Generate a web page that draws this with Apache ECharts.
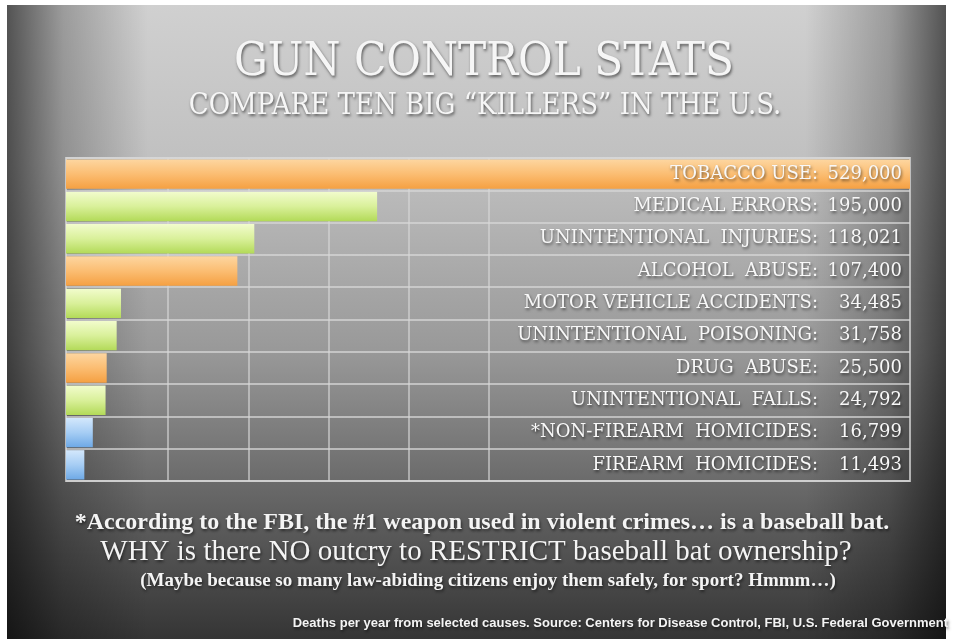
<!DOCTYPE html>
<html>
<head>
<meta charset="utf-8">
<script src="https://cdn.jsdelivr.net/npm/echarts@6/dist/echarts.min.js"></script>
<style>
html,body{margin:0;padding:0;background:#fff;}
#c{width:953px;height:639px;}
</style>
</head>
<body>
<div id="c"></div>
<script>
const categories = ['TOBACCO USE', 'MEDICAL ERRORS', 'UNINTENTIONAL  INJURIES', 'ALCOHOL  ABUSE', 'MOTOR VEHICLE ACCIDENTS', 'UNINTENTIONAL  POISONING', 'DRUG  ABUSE', 'UNINTENTIONAL  FALLS', '*NON-FIREARM  HOMICIDES', 'FIREARM  HOMICIDES'];
const values = [529000, 195000, 118021, 107400, 34485, 31758, 25500, 24792, 16799, 11493];
const groups = ['orange', 'green', 'green', 'orange', 'green', 'green', 'orange', 'green', 'blue', 'blue'];
const titleText = 'GUN CONTROL STATS';
const subtitleText = 'COMPARE TEN BIG \u201CKILLERS\u201D IN THE U.S.';
const noteLines = [
  '*According to the FBI, the #1 weapon used in violent crimes\u2026 is a baseball bat.',
  'WHY is there NO outcry to RESTRICT baseball bat ownership?',
  '(Maybe because so many law-abiding citizens enjoy them safely, for sport? Hmmm\u2026)'
];
const sourceText = 'Deaths per year from selected causes. Source: Centers for Disease Control, FBI, U.S. Federal Government';

const palette = {
  orange: ['#fdd6a0', '#fbbd72', '#f5a042'],
  green: ['#f2fccd', '#d9f09a', '#b3da58'],
  blue: ['#d4e8fc', '#a6cdf4', '#6ea9e6']
};
function grad(c) {
  return new echarts.graphic.LinearGradient(0, 0, 0, 1, [
    {offset: 0, color: c[0]}, {offset: 0.5, color: c[1]}, {offset: 1, color: c[2]}
  ]);
}
const fmt = v => v.toLocaleString('en-US');

const chart = echarts.init(document.getElementById('c'), null, {renderer: 'canvas'});
const shadow = {textShadowColor: 'rgba(0,0,0,0.55)', textShadowBlur: 3, textShadowOffsetX: 1, textShadowOffsetY: 2};
function centered(text, cx, top, font, fill) {
  return {type: 'text', z: 20, style: Object.assign({text: text, x: cx, y: top, textAlign: 'center', textVerticalAlign: 'top', fill: fill, font: font}, shadow)};
}

chart.setOption({
  animation: false,
  backgroundColor: '#ffffff',
  graphic: [
    {type: 'rect', z: -10, shape: {x: 7, y: 5, width: 939, height: 634}, style: {
      fill: new echarts.graphic.LinearGradient(0, 0, 0, 1, [
        {offset: 0, color: '#d0d0d0'}, {offset: 0.25, color: '#c0c0c0'}, {offset: 0.55, color: '#989898'},
        {offset: 0.8, color: '#606060'}, {offset: 1, color: '#353535'}])}},
    {type: 'rect', z: -9, shape: {x: 7, y: 5, width: 939, height: 634}, style: {
      fill: new echarts.graphic.LinearGradient(0, 0, 1, 0, [
        {offset: 0, color: 'rgba(0,0,0,0.6)'}, {offset: 0.06, color: 'rgba(0,0,0,0.25)'}, {offset: 0.15, color: 'rgba(0,0,0,0)'},
        {offset: 0.85, color: 'rgba(0,0,0,0)'}, {offset: 0.94, color: 'rgba(0,0,0,0.25)'}, {offset: 1, color: 'rgba(0,0,0,0.6)'}])}},
    centered(titleText, 484, 39, '47px "DejaVu Serif Condensed", "DejaVu Serif", serif', '#f6f6f6'),
    centered(subtitleText, 485, 92, '29px "DejaVu Serif Condensed", "DejaVu Serif", serif', '#f6f6f6'),
    centered(noteLines[0], 482, 511, 'bold 24px "Liberation Serif", serif', '#f4f4f4'),
    centered(noteLines[1], 476, 538, '29px "Liberation Serif", serif', '#f4f4f4'),
    centered(noteLines[2], 488, 572, 'bold 19px "Liberation Serif", serif', '#f4f4f4'),
    {type: 'text', z: 20, right: 5, top: 617, style: Object.assign({text: sourceText, fill: '#f4f4f4', font: 'bold 13px "Liberation Sans", sans-serif'}, shadow)}
  ],
  grid: [
    {left: 66, right: 43, top: 158, height: 323, show: true, backgroundColor: 'transparent', borderColor: 'rgba(215,215,215,0.75)', borderWidth: 2},
    {left: 168, width: 321, top: 158, height: 323, show: false}
  ],
  xAxis: [
    {type: 'value', gridIndex: 0, min: 0, max: 529000, show: false},
    {type: 'value', gridIndex: 1, min: 0, max: 4, interval: 1, z: 0,
      axisLine: {show: false}, axisTick: {show: false}, axisLabel: {show: false},
      splitLine: {show: true, lineStyle: {color: 'rgba(215,215,215,0.6)', width: 2}}}
  ],
  yAxis: [
    {type: 'category', gridIndex: 0, data: categories, inverse: true, position: 'right', z: 10,
      axisLine: {show: false}, axisTick: {show: false},
      splitLine: {show: true, interval: 0, lineStyle: {color: 'rgba(215,215,215,0.7)', width: 2}},
      axisLabel: {inside: true, margin: 8, interval: 0,
        formatter: (val, idx) => '{n|' + val + ':}{v|' + fmt(values[idx]) + '}',
        rich: {
          n: Object.assign({color: '#f8f8f8', fontSize: 18, fontFamily: '"DejaVu Serif", serif'}, shadow),
          v: Object.assign({color: '#f8f8f8', fontSize: 18, fontFamily: '"DejaVu Serif", serif', width: 84, align: 'right'}, shadow)
        }}},
    {type: 'category', gridIndex: 1, data: categories, show: false}
  ],
  series: [
    {type: 'bar', xAxisIndex: 0, yAxisIndex: 0, barCategoryGap: '9%', z: 2,
      data: values.map((v, i) => ({value: v, itemStyle: {color: grad(palette[groups[i]])}}))},
    {type: 'bar', xAxisIndex: 1, yAxisIndex: 1, data: [], silent: true}
  ]
});
</script>
</body>
</html>
